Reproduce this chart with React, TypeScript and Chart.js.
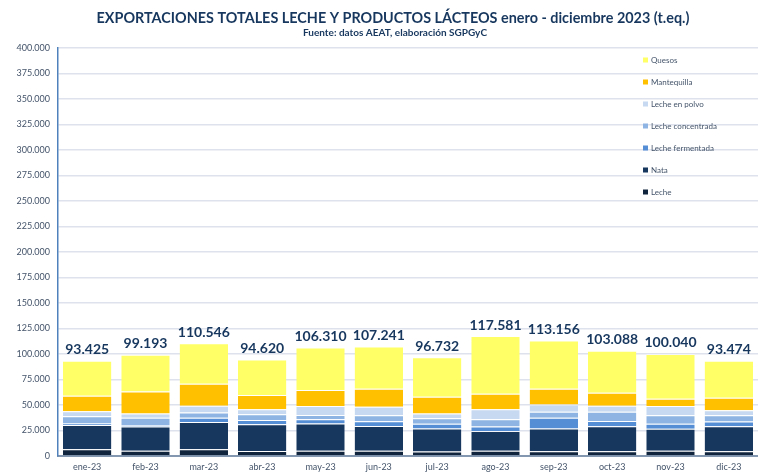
import React, { useEffect, useRef } from "react";
import { Chart, registerables } from "chart.js";

Chart.register(...registerables);

const categories = ["ene-23", "feb-23", "mar-23", "abr-23", "may-23", "jun-23", "jul-23", "ago-23", "sep-23", "oct-23", "nov-23", "dic-23"];

const leche = [6600, 5200, 6600, 4900, 5200, 5200, 4300, 5200, 4600, 4600, 5200, 4600];
const nata = [23900, 23700, 26800, 26200, 26600, 24300, 22600, 19400, 22300, 24600, 21400, 24600];
const lecheFermentada = [1300, 1300, 4000, 4300, 4300, 4600, 4600, 4300, 10500, 5200, 4900, 4600];
const lecheConcentrada = [7200, 7200, 5200, 5600, 4200, 5900, 5500, 7200, 5900, 8900, 8500, 6200];
const lecheEnPolvo = [4900, 4200, 6600, 4900, 8600, 8200, 4600, 9800, 7200, 5900, 8900, 4900];
const mantequilla = [15100, 21700, 21600, 13800, 15700, 17700, 16400, 15100, 15400, 12800, 7200, 12100];
const quesos = [34425, 35893, 39746, 34920, 41710, 41341, 38732, 56581, 47256, 41088, 43940, 36474];

const totals = [93425, 99193, 110546, 94620, 106310, 107241, 96732, 117581, 113156, 103088, 100040, 93474];

const FONT = "Lato, 'Open Sans', sans-serif";
const NAVY = "#17375E";
const TEXT = "#44546A";

function fmt(n: number): string {
  return String(Math.round(n)).replace(/\B(?=(\d{3})+(?!\d))/g, ".");
}

const overlayPlugin = {
  id: "overlay",
  afterDatasetsDraw(chart: any) {
    const ctx = chart.ctx;
    const y = chart.scales.y;
    const lastMeta = chart.getDatasetMeta(chart.data.datasets.length - 1);
    ctx.save();
    ctx.fillStyle = NAVY;
    ctx.font = `bold 14px ${FONT}`;
    ctx.textAlign = "center";
    ctx.textBaseline = "bottom";
    totals.forEach((t, i) => {
      const el = lastMeta.data[i];
      ctx.fillText(fmt(t), el.x, y.getPixelForValue(t) - 4);
    });
    ctx.restore();
  },
  afterDraw(chart: any) {
    const ctx = chart.ctx;
    ctx.save();
    // title
    ctx.fillStyle = NAVY;
    ctx.textAlign = "center";
    ctx.textBaseline = "middle";
    ctx.font = `bold 14.4px ${FONT}`;
    ctx.fillText("EXPORTACIONES TOTALES LECHE Y PRODUCTOS LÁCTEOS enero - diciembre 2023 (t.eq.)", 393, 18);
    ctx.font = `bold 10px ${FONT}`;
    ctx.fillText("Fuente: datos AEAT, elaboración SGPGyC", 395, 33);
    // legend
    const ds = chart.data.datasets;
    ctx.textAlign = "left";
    ctx.font = `8px ${FONT}`;
    for (let k = 0; k < ds.length; k++) {
      const d = ds[ds.length - 1 - k];
      const cy = 60 + k * 22;
      ctx.fillStyle = d.backgroundColor;
      ctx.fillRect(643, cy - 2.5, 5, 5);
      ctx.fillStyle = TEXT;
      ctx.fillText(d.label, 651, cy);
    }
    ctx.restore();
  },
};

export default function App() {
  const ref = useRef<HTMLCanvasElement>(null);
  useEffect(() => {
    if (!ref.current) return;
    const sep = "rgba(255,255,255,0.35)";
    const mk = (label: string, data: number[], color: string) => ({
      label,
      data,
      backgroundColor: color,
      borderColor: sep,
      borderWidth: { top: 1, bottom: 0, left: 0, right: 0 },
      borderSkipped: false,
      categoryPercentage: 0.83,
      barPercentage: 1,
    });
    const chart = new Chart(ref.current, {
      type: "bar",
      data: {
        labels: categories,
        datasets: [
          mk("Leche", leche, "#10243E"),
          mk("Nata", nata, "#17375E"),
          mk("Leche fermentada", lecheFermentada, "#558ED5"),
          mk("Leche concentrada", lecheConcentrada, "#8DB4E2"),
          mk("Leche en polvo", lecheEnPolvo, "#C6D9F1"),
          mk("Mantequilla", mantequilla, "#FFC000"),
          mk("Quesos", quesos, "#FFFF66"),
        ],
      },
      options: {
        responsive: false,
        animation: false,
        layout: { padding: { top: 48, right: 0, bottom: 0, left: 0 } },
        plugins: {
          legend: { display: false },
          title: { display: false },
          tooltip: { enabled: false },
        },
        scales: {
          x: {
            stacked: true,
            grid: { display: false, drawTicks: false },
            border: { color: "#8497B0", width: 2 },
            ticks: { color: TEXT, font: { family: FONT, size: 9 }, padding: 6, maxRotation: 0 },
            afterFit: (s: any) => { s.height = 17; },
          },
          y: {
            stacked: true,
            min: 0,
            max: 400000,
            grid: { color: "#DDE2EC", lineWidth: 1.5, drawTicks: false },
            border: { color: "#4F81BD", width: 1.5 },
            ticks: {
              stepSize: 25000,
              color: TEXT,
              font: { family: FONT, size: 9 },
              padding: 8,
              callback: (v: any) => fmt(Number(v)),
            },
            afterFit: (s: any) => { s.width = 58; },
          },
        },
      },
      plugins: [overlayPlugin],
    } as any);
    return () => chart.destroy();
  }, []);
  return (
    <div style={{ position: "fixed", left: 0, top: 0, width: 758, height: 473, background: "#fff" }}>
      <canvas ref={ref} width={758} height={473} style={{ display: "block" }} />
    </div>
  );
}
